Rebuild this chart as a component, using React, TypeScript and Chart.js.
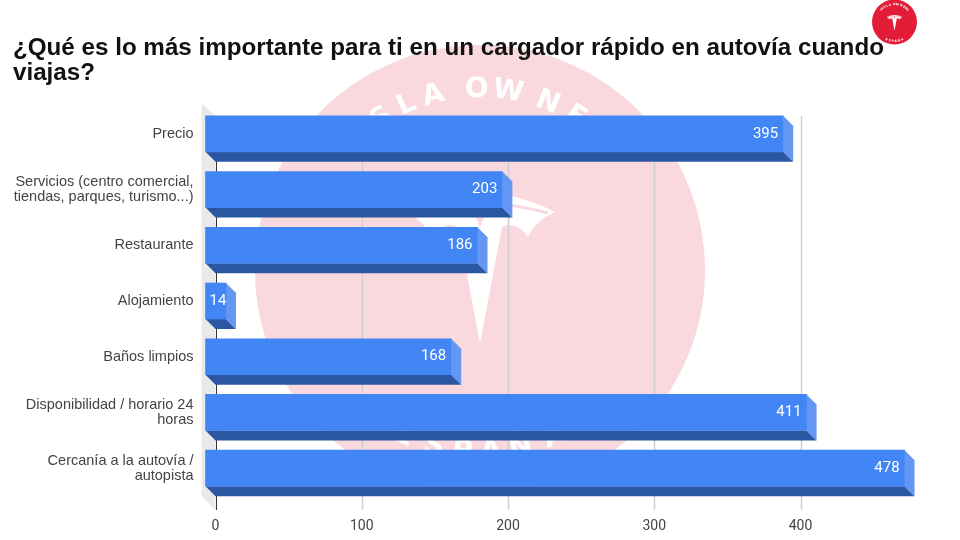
import { useEffect, useRef } from 'react';
import { Chart, registerables } from 'chart.js';

Chart.register(...registerables);

const TITLE_LINES = [
  '¿Qué es lo más importante para ti en un cargador rápido en autovía cuando',
  'viajas?',
];

const categories = [
  ['Precio'],
  ['Servicios (centro comercial,', 'tiendas, parques, turismo...)'],
  ['Restaurante'],
  ['Alojamiento'],
  ['Baños limpios'],
  ['Disponibilidad / horario 24', 'horas'],
  ['Cercanía a la autovía /', 'autopista'],
];
const votes = [395, 203, 186, 14, 168, 411, 478];
const xTicks = [0, 100, 200, 300, 400];

const DEPTH = 10;
const FRONT = '#4285f4';
const BOTTOM = '#2b56a2';
const SIDE = '#6497f3';

function teslaMark(ctx: CanvasRenderingContext2D, cx: number, cy: number, s: number, fill: string, gap: string) {
  ctx.save();
  ctx.translate(cx, cy);
  ctx.scale(s, s);
  ctx.fillStyle = fill;
  ctx.beginPath();
  ctx.moveTo(0, 73);
  ctx.lineTo(-22, -43);
  ctx.quadraticCurveTo(-36, -50, -48, -33);
  ctx.quadraticCurveTo(-56, -50, -75, -58);
  ctx.quadraticCurveTo(0, -96, 75, -58);
  ctx.quadraticCurveTo(56, -50, 48, -33);
  ctx.quadraticCurveTo(36, -50, 22, -43);
  ctx.closePath();
  ctx.fill();
  // gap under the top arc and notch over the stem
  ctx.strokeStyle = gap;
  ctx.fillStyle = gap;
  ctx.lineWidth = 3;
  ctx.beginPath();
  ctx.moveTo(-68, -57);
  ctx.quadraticCurveTo(0, -76, 68, -57);
  ctx.stroke();
  ctx.beginPath();
  ctx.moveTo(-7, -60);
  ctx.lineTo(7, -60);
  ctx.lineTo(0, -43);
  ctx.closePath();
  ctx.fill();
  ctx.restore();
}

function arcLetters(
  ctx: CanvasRenderingContext2D,
  text: string,
  cx: number,
  cy: number,
  radius: number,
  angles: number[],
  flip: boolean,
) {
  ctx.textAlign = 'center';
  ctx.textBaseline = 'alphabetic';
  [...text].forEach((ch, i) => {
    const a = (angles[i] * Math.PI) / 180;
    ctx.save();
    ctx.translate(cx, cy);
    ctx.rotate(a);
    ctx.translate(0, flip ? radius : -radius);
    ctx.fillText(ch, 0, 0);
    ctx.restore();
  });
}

const topAngles = [-48, -41, -33, -24, -15, -1, 9, 22, 32, 40, 47];
const bottomAngles = [24.6, 14.6, 5.5, -3.5, -13, -24];

const backdrop = {
  id: 'backdrop',
  beforeDraw(chart: Chart) {
    const ctx = chart.ctx;
    ctx.save();
    // watermark
    ctx.fillStyle = '#f9d9de';
    ctx.beginPath();
    ctx.arc(480, 270, 225, 0, Math.PI * 2);
    ctx.fill();
    ctx.fillStyle = '#ffffff';
    ctx.font = 'bold 28px "DejaVu Sans"';
    arcLetters(ctx, 'TESLAOWNERS', 480, 270, 173, topAngles, false);
    arcLetters(ctx, 'ESPAÑA', 480, 270, 190, bottomAngles, true);
    teslaMark(ctx, 480, 270, 1, '#ffffff', '#f9d9de');
    // logo
    ctx.fillStyle = '#e31c37';
    ctx.beginPath();
    ctx.arc(894.5, 22, 22.5, 0, Math.PI * 2);
    ctx.fill();
    ctx.fillStyle = '#ffffff';
    ctx.font = 'bold 3px "DejaVu Sans"';
    arcLetters(ctx, 'TESLAOWNERS', 894.5, 22, 17, topAngles, false);
    arcLetters(ctx, 'ESPAÑA', 894.5, 22, 20, bottomAngles, true);
    teslaMark(ctx, 894.5, 23, 0.105, '#ffffff', '#e31c37');
    ctx.restore();
  },
};

const frame3d = {
  id: 'frame3d',
  beforeDatasetsDraw(chart: Chart) {
    const ctx = chart.ctx;
    const x = chart.scales.x;
    const area = chart.chartArea;
    const top = area.top + DEPTH;
    const bottom = area.bottom + 14;
    const zero = x.getPixelForValue(0);
    ctx.save();
    // side wall
    ctx.fillStyle = '#e9e9e9';
    ctx.beginPath();
    ctx.moveTo(zero - 14, area.top - 3);
    ctx.lineTo(zero, top);
    ctx.lineTo(zero, bottom);
    ctx.lineTo(zero - 14, area.bottom);
    ctx.closePath();
    ctx.fill();
    // grid
    xTicks.forEach((t) => {
      const px = Math.round(x.getPixelForValue(t)) + 0.5;
      ctx.strokeStyle = t === 0 ? '#333333' : '#cfcfcf';
      ctx.lineWidth = t === 0 ? 1 : 1.5;
      ctx.beginPath();
      ctx.moveTo(px, top);
      ctx.lineTo(px, bottom);
      ctx.stroke();
    });
    ctx.restore();
  },
  beforeDatasetDraw(chart: Chart) {
    const ctx = chart.ctx;
    ctx.save();
    ctx.translate(-DEPTH, 0);
    chart.getDatasetMeta(0).data.forEach((bar: any) => {
      const { x: x2, y, base: x1, height } = bar.getProps(['x', 'y', 'base', 'height']);
      const y1 = y - height / 2;
      const y2 = y + height / 2;
      ctx.fillStyle = BOTTOM;
      ctx.beginPath();
      ctx.moveTo(x1, y2);
      ctx.lineTo(x2, y2);
      ctx.lineTo(x2 + DEPTH, y2 + DEPTH);
      ctx.lineTo(x1 + DEPTH, y2 + DEPTH);
      ctx.closePath();
      ctx.fill();
      ctx.fillStyle = SIDE;
      ctx.beginPath();
      ctx.moveTo(x2, y1);
      ctx.lineTo(x2 + DEPTH, y1 + DEPTH);
      ctx.lineTo(x2 + DEPTH, y2 + DEPTH);
      ctx.lineTo(x2, y2);
      ctx.closePath();
      ctx.fill();
    });
  },
  afterDatasetDraw(chart: Chart) {
    chart.ctx.restore();
  },
  afterDatasetsDraw(chart: Chart) {
    const ctx = chart.ctx;
    ctx.save();
    ctx.font = '15px Roboto';
    ctx.fillStyle = '#ffffff';
    ctx.textAlign = 'right';
    ctx.textBaseline = 'middle';
    chart.getDatasetMeta(0).data.forEach((bar: any, i: number) => {
      const { x: x2, y, base: x1 } = bar.getProps(['x', 'y', 'base']);
      const label = String(votes[i]);
      const w = ctx.measureText(label).width;
      const right = Math.max(x2 - DEPTH - 5, x1 - DEPTH + 4 + w);
      ctx.fillText(label, right, y);
    });
    ctx.restore();
  },
};

export default function App() {
  const canvasRef = useRef<HTMLCanvasElement>(null);

  useEffect(() => {
    if (!canvasRef.current) return;
    const chart = new Chart(canvasRef.current, {
      type: 'bar',
      data: {
        labels: categories,
        datasets: [
          {
            data: votes,
            backgroundColor: FRONT,
            borderWidth: 0,
            barThickness: 36,
            clip: false,
          } as any,
        ],
      },
      options: {
        indexAxis: 'y',
        responsive: false,
        animation: false,
        layout: { padding: { left: 13, right: 42.5, top: 0, bottom: 0 } },
        plugins: {
          legend: { display: false },
          tooltip: { enabled: false },
          title: {
            display: true,
            text: TITLE_LINES,
            align: 'start',
            color: '#111111',
            font: { family: '"Liberation Sans"', size: 24.2, weight: 'bold', lineHeight: 25 / 24.2 },
            padding: { top: 36, bottom: 20 },
          },
        },
        scales: {
          x: {
            min: 0,
            max: 480,
            grid: { display: false },
            border: { display: false },
            afterFit: (scale: any) => {
              scale.height = 44;
            },
            ticks: {
              stepSize: 100,
              includeBounds: false,
              padding: 14,
              color: '#444444',
              font: { family: 'Roboto', size: 14 },
              maxRotation: 0,
            },
          },
          y: {
            grid: { display: false },
            border: { display: false },
            afterFit: (scale: any) => {
              scale.width = 202.5;
            },
            ticks: {
              padding: 14,
              color: '#444444',
              font: { family: '"Liberation Sans"', size: 14.5, lineHeight: 15 / 14.5 },
              autoSkip: false,
            },
          },
        },
      },
      plugins: [backdrop, frame3d],
    } as any);

    return () => {
      chart.destroy();
    };
  }, []);

  return (
    <div style={{ position: 'fixed', left: 0, top: 0, width: 960, height: 540, background: '#ffffff' }}>
      <canvas ref={canvasRef} width={960} height={540} style={{ display: 'block' }} />
    </div>
  );
}
